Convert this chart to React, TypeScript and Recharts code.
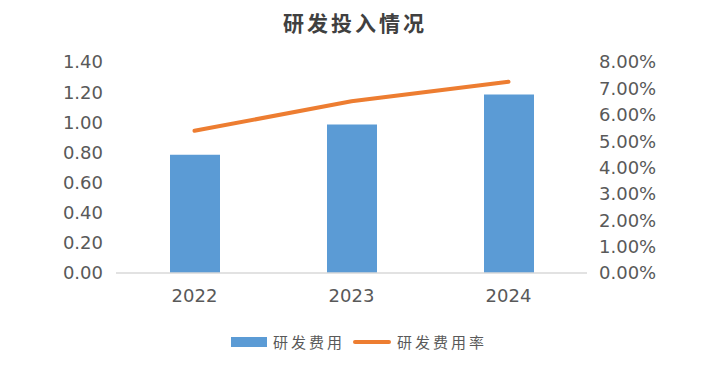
import { Bar, ComposedChart, Line, XAxis, YAxis } from 'recharts';

const years = ['2022', '2023', '2024'];
const rdExpense = [0.785, 0.985, 1.185];
const rdRatio = [0.0539, 0.0651, 0.0725];
const leftTicks = [0, 0.2, 0.4, 0.6, 0.8, 1.0, 1.2, 1.4];
const rightTicks = [0, 0.01, 0.02, 0.03, 0.04, 0.05, 0.06, 0.07, 0.08];

const barColor = '#5b9bd5';
const lineColor = '#ed7d31';
const axisColor = '#d9d9d9';
const tickColor = '#595959';
const numberFont = '"DejaVu Sans", sans-serif';
const cjkFont = '"Noto Sans CJK SC", sans-serif';
const tickStyle = { fill: tickColor, fontSize: 18, fontFamily: numberFont };

const chartData = years.map((year, i) => ({
  year,
  expense: rdExpense[i],
  ratio: rdRatio[i],
}));

function ChartLegend() {
  return (
    <div
      style={{
        position: 'absolute',
        top: 331,
        left: 4,
        width: 710,
        display: 'flex',
        justifyContent: 'center',
        alignItems: 'center',
        fontFamily: cjkFont,
        fontSize: 15,
        letterSpacing: 3,
        color: tickColor,
      }}
    >
      <span style={{ display: 'inline-block', width: 36, height: 10, background: barColor, marginRight: 6 }} />
      <span style={{ marginRight: 8 }}>研发费用</span>
      <span style={{ display: 'inline-block', width: 38, height: 4, borderRadius: 2, background: lineColor, marginRight: 6 }} />
      <span>研发费用率</span>
    </div>
  );
}

export default function App() {
  return (
    <div style={{ position: 'relative', width: 710, height: 380, background: '#fff' }}>
      <style>{'body{margin:0}'}</style>
      <div
        style={{
          position: 'absolute',
          top: 7,
          left: 0,
          width: 710,
          textAlign: 'center',
          fontFamily: cjkFont,
          fontSize: 21,
          fontWeight: 700,
          letterSpacing: 3,
          color: '#404040',
        }}
      >
        研发投入情况
      </div>
      <ComposedChart width={710} height={380} data={chartData} margin={{ top: 62, right: 0, bottom: 77, left: 0 }}>
        <XAxis
          dataKey="year"
          height={30}
          tickSize={0}
          tickMargin={16}
          interval={0}
          axisLine={{ stroke: axisColor, strokeWidth: 1.5 }}
          tick={tickStyle}
        />
        <YAxis
          yAxisId="left"
          width={116}
          domain={[0, 1.4]}
          ticks={leftTicks}
          interval={0}
          tickSize={0}
          tickMargin={13}
          axisLine={false}
          tick={tickStyle}
          tickFormatter={(v: number) => v.toFixed(2)}
        />
        <YAxis
          yAxisId="right"
          orientation="right"
          width={123}
          domain={[0, 0.08]}
          ticks={rightTicks}
          interval={0}
          tickSize={0}
          tickMargin={12}
          axisLine={false}
          tick={tickStyle}
          tickFormatter={(v: number) => `${(v * 100).toFixed(2)}%`}
        />
        <Bar yAxisId="left" dataKey="expense" name="研发费用" fill={barColor} barSize={50} isAnimationActive={false} />
        <Line
          yAxisId="right"
          dataKey="ratio"
          name="研发费用率"
          stroke={lineColor}
          strokeWidth={4}
          strokeLinecap="round"
          dot={false}
          activeDot={false}
          type="linear"
          isAnimationActive={false}
        />
      </ComposedChart>
      <ChartLegend />
    </div>
  );
}
